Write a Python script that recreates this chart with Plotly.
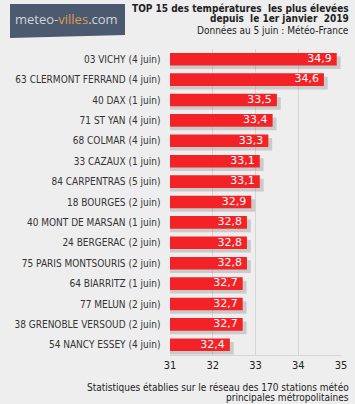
import plotly.graph_objects as go

stations = ["03 VICHY (4 juin)", "63 CLERMONT FERRAND (4 juin)", "40 DAX (1 juin)",
            "71 ST YAN (4 juin)", "68 COLMAR (4 juin)", "33 CAZAUX (1 juin)",
            "84 CARPENTRAS (5 juin)", "18 BOURGES (2 juin)", "40 MONT DE MARSAN (1 juin)",
            "24 BERGERAC (2 juin)", "75 PARIS MONTSOURIS (2 juin)", "64 BIARRITZ (1 juin)",
            "77 MELUN (2 juin)", "38 GRENOBLE VERSOUD (2 juin)", "54 NANCY ESSEY (4 juin)"]
temps = [34.9, 34.6, 33.5, 33.4, 33.3, 33.1, 33.1, 32.9, 32.8, 32.8, 32.8, 32.7, 32.7, 32.7, 32.4]
tick_vals = [31, 32, 33, 34, 35]

W, H = 355, 404
L, R, T, B = 170, 14, 49, 49
pw, ph = W - L - R, H - T - B

def px(x):
    return (x - L) / pw

def py(y):
    return 1 - (y - T) / ph

FONT = "DejaVu Sans Condensed, DejaVu Sans"
labels_txt = [f"{v:.1f}".replace(".", ",") for v in temps]
PAD = 5 / (pw / 4)  # ~5 px expressed in axis units
n = len(stations)

fig = go.Figure()
# shadow
fig.add_trace(go.Bar(
    y=stations, x=[v - 31 + 0.09 for v in temps], base=31, orientation="h",
    width=0.62, offset=-0.31 + 0.17,
    marker=dict(color="rgba(120,120,120,0.3)", line=dict(width=0)),
    hoverinfo="skip", showlegend=False,
))
# bars
fig.add_trace(go.Bar(
    y=stations, x=[v - 31 for v in temps], base=31, orientation="h",
    width=0.62, offset=-0.31,
    marker=dict(color="#f22226", line=dict(width=0)),
    showlegend=False,
))
# value labels
fig.add_trace(go.Scatter(
    y=stations, x=[v - PAD for v in temps], mode="text", text=labels_txt,
    textposition="middle left",
    textfont=dict(family="DejaVu Sans", size=11, color="white"),
    hoverinfo="skip", showlegend=False,
))

fig.update_layout(
    width=W, height=H,
    margin=dict(l=L, r=R, t=T, b=B, pad=0),
    paper_bgcolor="#eeeeee", plot_bgcolor="#eeeeee",
    barmode="overlay",
    font=dict(family=FONT, size=10, color="#333333"),
    xaxis=dict(range=[31, 35], tickvals=tick_vals, showgrid=True, gridcolor="#d6d6d6",
               gridwidth=1, zeroline=False, showline=True, linecolor="#d6d6d6",
               ticks="", tickfont=dict(size=11, color="#222222"), fixedrange=True,
               automargin=False),
    yaxis=dict(range=[n - 0.5, -0.5], categoryorder="array", categoryarray=stations,
               showgrid=False, zeroline=False, ticks="",
               ticksuffix="   ", tickfont=dict(size=10, color="#333333"), fixedrange=True,
               automargin=False),
)

# logo
fig.add_shape(type="path", xref="paper", yref="paper",
              path=f"M {px(10)},{py(4)} L {px(125)},{py(4)} L {px(125)},{py(35)} L {px(10)},{py(38)} Z",
              fillcolor="#4c5a6f", line=dict(width=0), layer="above")
fig.add_annotation(xref="paper", yref="paper", x=px(66), y=py(19), showarrow=False,
                   text="<span style='color:#d0d4d9'>meteo-</span><span style='color:#dc9a55'>villes</span><span style='color:#d0d4d9'>.com</span>",
                   font=dict(family="Open Sans", size=13), xanchor="center", yanchor="middle")

# titles
fig.add_annotation(xref="paper", yref="paper", x=px(351), y=py(8), showarrow=False,
                   text="<b>TOP 15 des températures  les plus élevées</b>",
                   font=dict(family=FONT, size=10, color="#222222"), xanchor="right", yanchor="middle")
fig.add_annotation(xref="paper", yref="paper", x=px(351), y=py(19), showarrow=False,
                   text="<b>depuis  le 1er janvier  2019</b>",
                   font=dict(family=FONT, size=10, color="#222222"), xanchor="right", yanchor="middle")
fig.add_annotation(xref="paper", yref="paper", x=px(351), y=py(31), showarrow=False,
                   text="Données au 5 juin : Météo-France",
                   font=dict(family=FONT, size=10, color="#222222"), xanchor="right", yanchor="middle")

# footer
fig.add_annotation(xref="paper", yref="paper", x=px(351), y=py(387), showarrow=False,
                   text="Statistiques établies sur le réseau des 170 stations météo",
                   font=dict(family=FONT, size=10, color="#222222"), xanchor="right", yanchor="middle")
fig.add_annotation(xref="paper", yref="paper", x=px(351), y=py(397.5), showarrow=False,
                   text="principales métropolitaines",
                   font=dict(family=FONT, size=10, color="#222222"), xanchor="right", yanchor="middle")

fig.write_html("out.html", config={"displayModeBar": False},
               post_script="document.body.style.margin='0';document.body.style.overflow='hidden';")
